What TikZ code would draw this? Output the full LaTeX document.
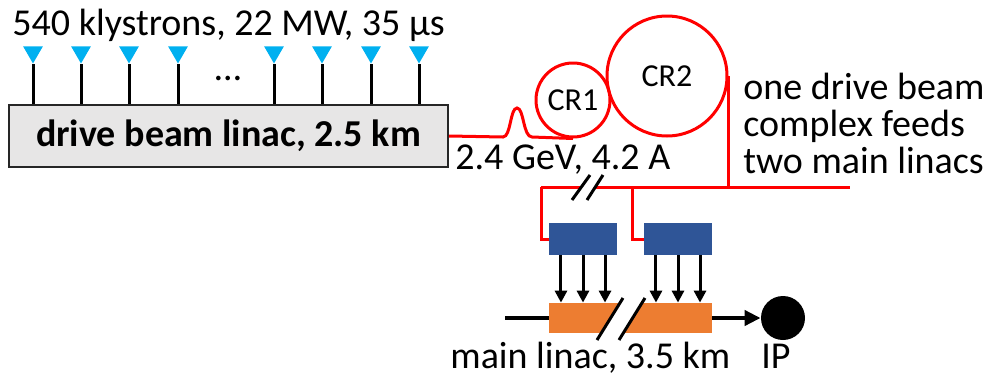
\documentclass[tikz,border=0pt]{standalone}
\usepackage{fontspec}
\setmainfont{Carlito}
\usetikzlibrary{arrows.meta, positioning, calc, shapes.geometric}
\definecolor{klyblue}{HTML}{00B0F0}
\definecolor{decblue}{HTML}{2F5597}
\definecolor{acsorange}{HTML}{ED7D31}
\definecolor{boxgray}{HTML}{E7E6E6}

\begin{document}
\begin{tikzpicture}[
    x=0.5pt, y=-0.5pt,
    lbl/.style={font=\fontsize{19}{18.5}\selectfont, inner sep=0pt},
    linac/.style={draw=black!85, fill=boxgray, line width=1pt, inner sep=0pt,
                  minimum width=219.5pt, minimum height=31pt,
                  font=\fontsize{19}{22}\selectfont\bfseries},
    kly/.style={regular polygon, regular polygon sides=3, shape border rotate=180,
                fill=klyblue, inner sep=0pt, minimum size=11.5pt},
    stem/.style={line width=1.5pt},
    ring/.style={circle, draw=red, line width=1.5pt, inner sep=0pt,
                 font=\fontsize{16}{18}\selectfont},
    beam/.style={red, line width=1.5pt},
    dec/.style={fill=decblue, minimum width=34pt, minimum height=16pt, inner sep=0pt},
    acs/.style={fill=acsorange, minimum width=81.5pt, minimum height=15pt, inner sep=0pt},
    feed/.style={line width=1.5pt, -{Triangle[length=6pt, width=6pt]}},
    mbeam/.style={line width=2pt},
    brk/.style={line width=1.5pt},
  ]
    \useasboundingbox (0,0) rectangle (987,381);

    % drive beam linac and klystrons
    \node[lbl, anchor=base west] (klytext) at (12,35) {540 klystrons, 22 MW, 35 µs};
    \node[linac] (drive) at (228.5,136) {drive beam linac, 2.5 km};
    \foreach \x [count=\i] in {33,81,129,178,274,322,371,419} {
      \node[kly] (k\i) at (\x,52) {};
      \draw[stem] (k\i.south) -- (k\i.south |- drive.north);
    }
    \node[lbl, anchor=base] (dots) at (228,80) {…};

    % combiner rings
    \node[ring, minimum size=37pt] (cr1) at (573,100) {CR1};
    \node[ring, minimum size=60pt] (cr2) at (667,76) {CR2};
    \draw[beam] (drive.east) -- (503,137)
      .. controls (511,137) and (510,108) .. (517,108)
      .. controls (524,108) and (523,137) .. (532,137) -- (cr1.south);
    \node[lbl, anchor=base west] (dbtext) at (455,169) {2.4 GeV, 4.2 A};

    % distribution to the decelerators
    \coordinate (fb1) at (541,187);
    \coordinate (fb2) at (632,187);
    \coordinate (fbout) at (850,187);
    \node[dec] (dec1) at (583,239) {};
    \node[dec] (dec2) at (678,239) {};
    \draw[beam] (cr2.east) -- (cr2.east |- fbout);
    \draw[beam] (fb1) -- (fbout);
    \draw[beam] (fb1) |- (dec1.west);
    \draw[beam] (fb2) |- (dec2.west);
    \fill[white] (572,200) -- (590,175) -- (603,175) -- (587,200) -- cycle;
    \draw[brk] (572,200) -- (590,175);
    \draw[brk] (587,200) -- (603,175);
    \node[lbl, anchor=base west, align=left] (note) at (743,173)
      {one drive beam\\complex feeds\\two main linacs};

    % main linac
    \node[acs] (ml) at (630.5,318) {};
    \fill[white] (601.3,333) -- (620,303) -- (642,303) -- (623.3,333) -- cycle;
    \draw[brk] (597,340) -- (623,298);
    \draw[brk] (619,340) -- (645,298);
    \foreach \d in {dec1, dec2} {
      \foreach \f in {0.18,0.5,0.82} {
        \coordinate (src) at ($(\d.south west)!\f!(\d.south east)$);
        \draw[feed] (src) -- (src |- ml.north);
      }
    }
    \coordinate (mbin) at (505,318);
    \node[circle, fill=black, inner sep=0pt, minimum size=22pt] (ip) at (783,318) {};
    \draw[mbeam] (mbin) -- (ml.west);
    \draw[mbeam, -{Triangle[length=8pt, width=7.5pt]}] (ml.east) -- (ip.west);
    \node[lbl, anchor=base west] (mltext) at (450,368) {main linac, 3.5 km};
    \node[lbl, anchor=base] (iptext) at (776,368) {IP};
  \end{tikzpicture}
\end{document}
